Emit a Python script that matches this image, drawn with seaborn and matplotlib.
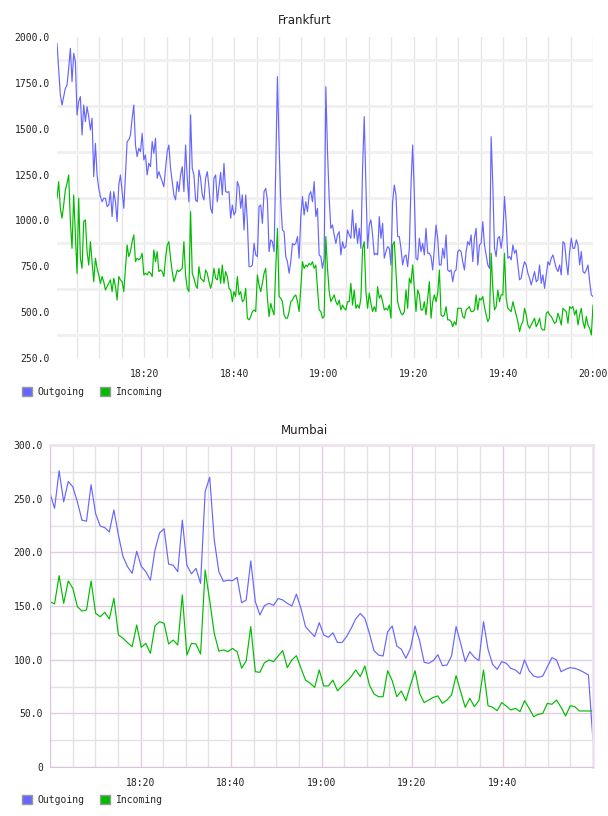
import pandas as pd
import matplotlib
matplotlib.use('Agg')
import matplotlib.pyplot as plt
import matplotlib.dates as mdates
from matplotlib.patches import Patch
from matplotlib.ticker import FixedLocator, FuncFormatter
import seaborn as sns

# Frankfurt traffic, one reading every ~22 s (18:00:32 - 20:00)
frankfurt_outgoing = [
    1966, 1829, 1684, 1629, 1675, 1720, 1738, 1829, 1938, 1757,
    1911, 1866, 1575, 1648, 1675, 1466, 1629, 1539, 1620, 1566,
    1493, 1557, 1239, 1420, 1248, 1175, 1130, 1102, 1121, 1121,
    1075, 1084, 1157, 1021, 1157, 1102, 993, 1193, 1248, 1157,
    1066, 1248, 1430, 1439, 1466, 1557, 1629, 1411, 1348, 1393,
    1375, 1475, 1330, 1357, 1248, 1311, 1293, 1430, 1366, 1448,
    1230, 1266, 1239, 1212, 1184, 1284, 1375, 1411, 1284, 1212,
    1139, 1112, 1212, 1157, 1248, 1293, 1157, 1411, 1230, 1102,
    1575, 1284, 1248, 1112, 1102, 1275, 1230, 1139, 1112, 1230,
    1266, 1184, 1066, 1039, 1230, 1248, 1102, 1184, 1262, 1139,
    1311, 1157, 1153, 1157, 1012, 1084, 1030, 1048, 1212, 1184,
    1066, 1139, 948, 1139, 993, 748, 748, 757, 875, 812,
    803, 1075, 1084, 984, 1157, 1175, 1112, 830, 894, 884,
    830, 1284, 1784, 1411, 1102, 948, 939, 803, 775, 712,
    775, 875, 866, 875, 912, 794, 1021, 1130, 1030, 1102,
    1048, 1139, 1157, 1102, 1212, 1021, 1066, 812, 803, 739,
    794,
    1729, 1375, 1121, 957, 975, 921, 875, 921, 939, 812,
    884, 848, 857, 948, 921, 903, 1057, 903, 984, 875,
    957, 848, 1284, 1566, 1193, 848, 975, 1003, 921, 812,
    821, 812, 1021, 903, 984, 794, 830, 857, 848, 757,
    1102, 1193, 1139, 912, 912, 848, 757, 803, 812, 748,
    848, 1193, 1411, 1139, 794, 785, 903, 830, 875, 812,
    957, 821, 821, 803, 730, 848, 975, 903, 757, 757,
    848, 794, 921, 730, 721, 730, 666, 721, 730, 830,
    839, 830, 775, 730, 830, 884, 866, 921, 775, 903,
    957, 757, 866, 875, 993, 866, 812, 757, 739, 1457,
    1193, 848, 803, 903, 912, 848, 921, 1130, 993, 794,
    803, 785, 866, 821, 839, 757, 676, 685, 739, 775,
    757, 712, 685, 648, 685, 721, 666, 676, 757, 657,
    703, 630, 703, 775, 757, 794, 812, 775, 739, 721,
    757, 703, 884, 875, 775, 703, 830, 903, 848, 848,
    894, 866, 757, 830, 721, 712, 730, 757, 666, 594,
    585,
]
frankfurt_incoming = [
    1121, 1211, 1066, 1012, 1084, 1166, 1202, 1248, 994, 848,
    1139, 921, 712, 1121, 794, 739, 994, 1003, 830, 757,
    884, 775, 666, 794, 739, 703, 657, 694, 666, 621,
    639, 657, 676, 612, 685, 639, 566, 694, 676, 666,
    612, 739, 866, 803, 830, 884, 921, 775, 794, 785,
    794, 821, 703, 712, 703, 721, 712, 694, 839, 775,
    830, 721, 730, 721, 694, 794, 866, 884, 794, 721,
    666, 694, 730, 721, 730, 739, 884, 703, 630, 612,
    1048, 712, 685, 648, 630, 748, 685, 676, 666, 730,
    712, 666, 630, 666, 739, 685, 676, 739, 657, 757,
    657, 721, 694, 630, 621, 557, 612, 585, 694, 594,
    612, 557, 566, 630, 467, 458, 476, 503, 512, 503,
    703, 648, 612, 657, 712, 739, 576, 476, 548, 512,
    485, 739, 957, 585, 576, 557, 485, 467, 467, 503,
    557, 566, 585, 594, 557, 503, 630, 775, 739, 757,
    748, 766, 757, 775, 739, 757, 630, 512, 503, 467,
    476,
    912, 739, 612, 557, 576, 594, 557, 539, 566, 512,
    539, 521, 512, 557, 557, 657, 539, 621, 521, 539,
    521, 576, 848, 884, 612, 521, 603, 548, 503, 530,
    503, 639, 576, 594, 557, 512, 521, 512, 539, 467,
    866, 884, 721, 557, 521, 494, 485, 503, 621, 521,
    685, 657, 757, 630, 503, 621, 594, 512, 512, 557,
    485, 576, 666, 467, 557, 594, 557, 603, 730, 485,
    476, 485, 530, 458, 458, 448, 421, 448, 430, 521,
    521, 521, 476, 467, 512, 521, 530, 503, 503, 512,
    594, 512, 576, 566, 585, 530, 485, 448, 467, 821,
    630, 512, 530, 621, 557, 594, 594, 821, 576, 521,
    512, 503, 557, 521, 485, 448, 394, 430, 448, 521,
    485, 430, 412, 430, 448, 467, 421, 439, 467, 412,
    403, 403, 494, 503, 485, 476, 458, 439, 448, 494,
    467, 430, 521, 512, 503, 439, 530, 521, 530, 485,
    512, 430, 485, 521, 448, 412, 476, 430, 412, 376,
    539,
]

# Mumbai traffic, one reading per minute (18:00 - 20:00)
mumbai_outgoing = [
    255, 241, 276, 247, 266, 261, 247, 230, 229, 263,
    236, 224.5, 223, 219, 239.5, 216, 196, 186.6, 180.4, 201,
    187, 182, 174, 202, 218, 222, 189, 188, 182, 230,
    188, 180, 185, 171, 256.5, 270, 211.5, 182, 173, 174,
    173.6, 176.7, 153, 155.6, 192, 154, 141.6, 150.3, 152.5, 150.6,
    157, 155.6, 152.5, 150, 161, 147.8,
    130.7, 126, 121.5, 134.5, 123, 120.8, 125, 116, 116, 121.5,
    129.2, 138, 143, 138.5, 124.5, 108.4, 104.3, 103.4, 126, 131.4,
    112.7, 109.6, 101.3, 110.5, 131.4, 117.7, 97.5, 96.6, 99.1, 104.6,
    94.4, 95, 103.4, 130.8, 115.2, 98.2, 107.5, 102.2, 99.1, 135.4,
    109.6, 95.6, 91, 98.2, 96.6, 91.9, 90.4, 86.6, 99.7, 89.7,
    84.8, 83.5, 84.8, 93.5, 101.9, 99.7, 88.8, 91, 92.6, 91.9,
    90.4, 88.2, 85.7, 24.5,
]
mumbai_incoming = [
    154, 151.9, 178.3, 152.5, 173.3, 166.5, 149.4, 145.3, 146.3, 173.3,
    143.2, 140, 144.1, 137.9, 157.2, 123, 119.9, 115.8, 112.1, 132.3,
    111.5, 115.2, 105.9, 131.4, 135.4, 133.9, 114.6, 118.3, 113.6, 160.3,
    104.3, 115.2, 114.6, 105.3, 183.5, 155, 124.5, 108, 109, 107.5,
    110.5, 107.5, 92, 99, 130.8, 88.8, 88.2, 97.2, 99.7, 98.2,
    103.4, 108.4, 92.6, 99.7, 103.7, 92,
    81, 78, 74.2, 90.4, 75.5, 75.5, 81, 71, 75.5, 79.5,
    84.2, 90.4, 84.2, 94.1, 76.4, 68, 65.5, 65.5, 89.7, 80.4,
    65.5, 70.8, 61.8, 76.4, 89.7, 68.6, 60, 62.4, 64.9, 66.2,
    59.3, 62.4, 67.1, 85.1, 70.2, 55.6, 64, 56.2, 61.8, 90.4,
    57.1, 55.6, 52.5, 60, 56.8, 53.1, 54.7, 51.6, 61.8, 54.7,
    46.9, 49.1, 50, 59.3, 58.4, 62.4, 55.6, 47.5, 57.1, 56.2,
    52.2, 52.2, 52.2, 52.2,
]

series_names = ['Outgoing', 'Incoming']
series_colors = ['#6666ff', '#00bb00']
day = '2024-01-01 '
frankfurt_span = ('18:00:32', '20:00:00')
mumbai_span = ('18:00:00', '20:00:00')
frankfurt_xticks = ['18:20', '18:40', '19:00', '19:20', '19:40', '20:00']
mumbai_xticks = ['18:20', '18:40', '19:00', '19:20', '19:40']
frankfurt_yticks = [250, 500, 750, 1000, 1250, 1500, 1750, 2000]
mumbai_yticks = [0, 50, 100, 150, 200, 250, 300]


def make_frame(outgoing, incoming, span):
    parts = []
    for name, vals in zip(series_names, [outgoing, incoming]):
        t = pd.date_range(day + span[0], day + span[1], periods=len(vals))
        parts.append(pd.DataFrame({'time': t, 'value': vals, 'series': name}))
    return pd.concat(parts, ignore_index=True)


def ts(s):
    return mdates.date2num(pd.Timestamp(day + s))


sns.set_style('white')
plt.rcParams['font.family'] = ['DejaVu Sans']
mono = {'family': 'DejaVu Sans Mono', 'size': 7}

fig = plt.figure(figsize=(6.08, 8.16), dpi=100)
ax1 = fig.add_axes([57 / 608, 458 / 816, 536 / 608, 321 / 816])
ax2 = fig.add_axes([50 / 608, 49 / 816, 543 / 608, 322 / 816])
palette = dict(zip(series_names, series_colors))

# Step 1: Frankfurt
df_f = make_frame(frankfurt_outgoing, frankfurt_incoming, frankfurt_span)
sns.lineplot(data=df_f, x='time', y='value', hue='series', palette=palette,
             ax=ax1, legend=False, linewidth=0.85)
ax1.set_xlim(ts(frankfurt_span[0]), ts(frankfurt_span[1]))
ax1.set_ylim(250, 2000)
ax1.xaxis.set_major_locator(FixedLocator([ts(t) for t in frankfurt_xticks]))
ax1.xaxis.set_minor_locator(mdates.MinuteLocator(byminute=range(0, 60, 5)))
ax1.xaxis.set_major_formatter(mdates.DateFormatter('%H:%M'))
ax1.yaxis.set_major_locator(FixedLocator(frankfurt_yticks))
ax1.yaxis.set_minor_locator(FixedLocator([v + 125 for v in frankfurt_yticks[:-1]]))
ax1.yaxis.set_major_formatter(FuncFormatter(lambda v, p: f'{v:.1f}'))
ax1.grid(True, axis='x', which='both', color='#e6e6e6', linewidth=1.0)
ax1.grid(True, axis='y', which='minor', color='#f0f0f0', linewidth=2.0)
ax1.grid(False, axis='y', which='major')
for s in ax1.spines.values():
    s.set_visible(False)

# Step 2: Mumbai
df_m = make_frame(mumbai_outgoing, mumbai_incoming, mumbai_span)
sns.lineplot(data=df_m, x='time', y='value', hue='series', palette=palette,
             ax=ax2, legend=False, linewidth=0.85)
ax2.set_xlim(ts(mumbai_span[0]), ts(mumbai_span[1]))
ax2.set_ylim(0, 300)
ax2.xaxis.set_major_locator(FixedLocator([ts(t) for t in mumbai_xticks]))
ax2.xaxis.set_minor_locator(mdates.MinuteLocator(byminute=range(0, 60, 5)))
ax2.xaxis.set_major_formatter(mdates.DateFormatter('%H:%M'))
ax2.yaxis.set_major_locator(FixedLocator(mumbai_yticks))
ax2.yaxis.set_minor_locator(FixedLocator([v + 25 for v in mumbai_yticks[:-1]]))
ax2.yaxis.set_major_formatter(FuncFormatter(lambda v, p: '0' if v == 0 else f'{v:.1f}'))
ax2.grid(True, which='major', color='#e2cce2', linewidth=1.0)
ax2.grid(True, which='minor', color='#e2e2e2', linewidth=1.0)
ax2.spines['left'].set_color('#dcc4dc')
ax2.spines['bottom'].set_color('#dcc4dc')
ax2.spines['top'].set_color('#efe2ef')
ax2.spines['right'].set_color('#efe2ef')
ax2.spines['top'].set_linewidth(2.0)
ax2.spines['right'].set_linewidth(2.0)

for ax in (ax1, ax2):
    ax.set_axisbelow(True)
    ax.set_xlabel('')
    ax.set_ylabel('')
    ax.tick_params(which='both', length=0)
    ax.tick_params(axis='x', pad=8)
    ax.tick_params(axis='y', pad=5)
    for lab in ax.get_xticklabels() + ax.get_yticklabels():
        lab.set_fontfamily(mono['family'])
        lab.set_fontsize(mono['size'])
        lab.set_color('#222222')

fig.text(305 / 608, 1 - 20 / 816, 'Frankfurt', ha='center', va='center', fontsize=8.5, color='#222222')
fig.text(304 / 608, 1 - 430 / 816, 'Mumbai', ha='center', va='center', fontsize=8.5, color='#222222')

# Step 3: square legends under each chart
handles = [Patch(facecolor=c, edgecolor='#999999', linewidth=1.0) for c in series_colors]
for ypos in (1 - 392 / 816, 1 - 800 / 816):
    fig.legend(handles, series_names, loc='center left', bbox_to_anchor=(22 / 608, ypos),
               ncol=2, frameon=False, handlelength=1.0, handleheight=1.0,
               handletextpad=0.6, columnspacing=1.6, borderpad=0, borderaxespad=0,
               prop=mono)

fig.savefig('out.png', dpi=100)
